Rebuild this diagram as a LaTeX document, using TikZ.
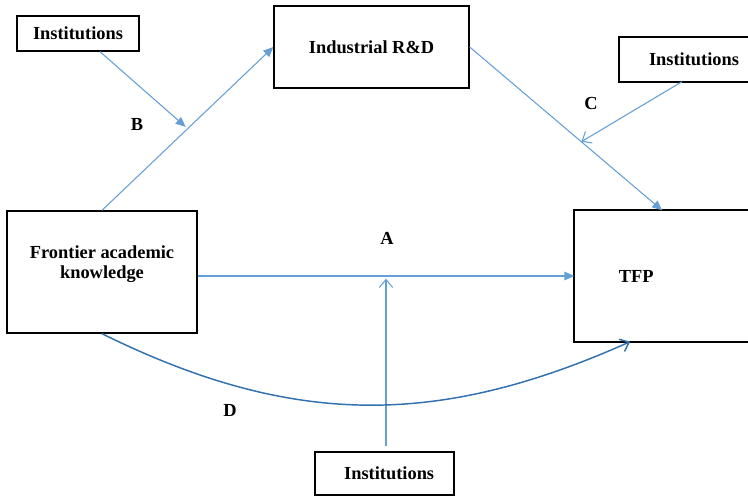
\documentclass[tikz,border=0pt]{standalone}
\usepackage{fontspec}
\setmainfont{Liberation Serif}
\usetikzlibrary{arrows.meta}
\definecolor{lineblue}{RGB}{100,160,215}
\definecolor{curveblue}{RGB}{50,112,175}
\begin{document}
\begin{tikzpicture}[x=0.75pt, y=-0.75pt,
  font=\fontsize{13.8}{15}\selectfont\bfseries,
  box/.style={draw=black, line width=1pt, inner sep=0pt, align=center},
  openbox/.style={box, draw=none},
  boxside/.style={draw=black, line width=1.3pt},
  link/.style={draw=lineblue, line width=0.8pt, -{Triangle[length=7.5pt, width=6.5pt]}},
  moder/.style={draw=lineblue, line width=0.8pt, -{Straight Barb[length=6pt, width=10pt]}},
  direct/.style={draw=curveblue, line width=1.1pt, -{Straight Barb[length=6pt, width=10pt]}}]
\useasboundingbox (0,0) rectangle (748,496);
\node[box, minimum width=91.5pt, minimum height=26.25pt] (I1) at (78,33.5) {Institutions};
\node[box, minimum width=146.25pt, minimum height=61.5pt] (R) at (371.5,47) {Industrial R\&D};
\node[openbox, minimum width=111pt, minimum height=32.25pt] (I2) at (694,59.5) {Institutions};
\node[box, minimum width=142.5pt, minimum height=91.5pt] (F) at (102,272) {Frontier academic\\knowledge\\ \mbox{}};
\node[openbox, minimum width=138.75pt, minimum height=97.5pt] (T) at (667.5,276) {TFP\hspace*{47pt}};
\node[box, minimum width=104.25pt, minimum height=32.25pt] (I3) at (384.5,473.5) {\hspace*{7pt}Institutions};
\node (lB) at (137,125) {B};
\node (lC) at (591,103) {C};
\node (lA) at (387,238) {A};
\node (lD) at (230,410) {D};
% boxes cut by the right margin
\draw[boxside] (I2.north east) -- (I2.north west) -- (I2.south west) -- (I2.south east);
\draw[boxside] (T.north east) -- (T.north west) -- (T.south west) -- (T.south east);
\draw[link] (F.north) -- coordinate[pos=0.5] (mB) (R.west);
\draw[link] (R.east) -- coordinate[pos=0.58] (mC) ([xshift=-4pt]T.north);
\draw[link] (F.east |- T.west) -- coordinate[pos=0.5] (mA) (T.west);
\draw[link, shorten >=2pt] ([xshift=16.5pt]I1.south) -- (mB);
\draw[moder] ([xshift=-9pt]I2.south) -- (mC);
\draw[moder, shorten <=4pt, shorten >=2pt] (mA |- I3.north) -- (mA);
\draw[direct] (F.south) .. controls (293,428) and (439,427) .. ([xshift=-28pt]T.south);
\end{tikzpicture}
\end{document}
